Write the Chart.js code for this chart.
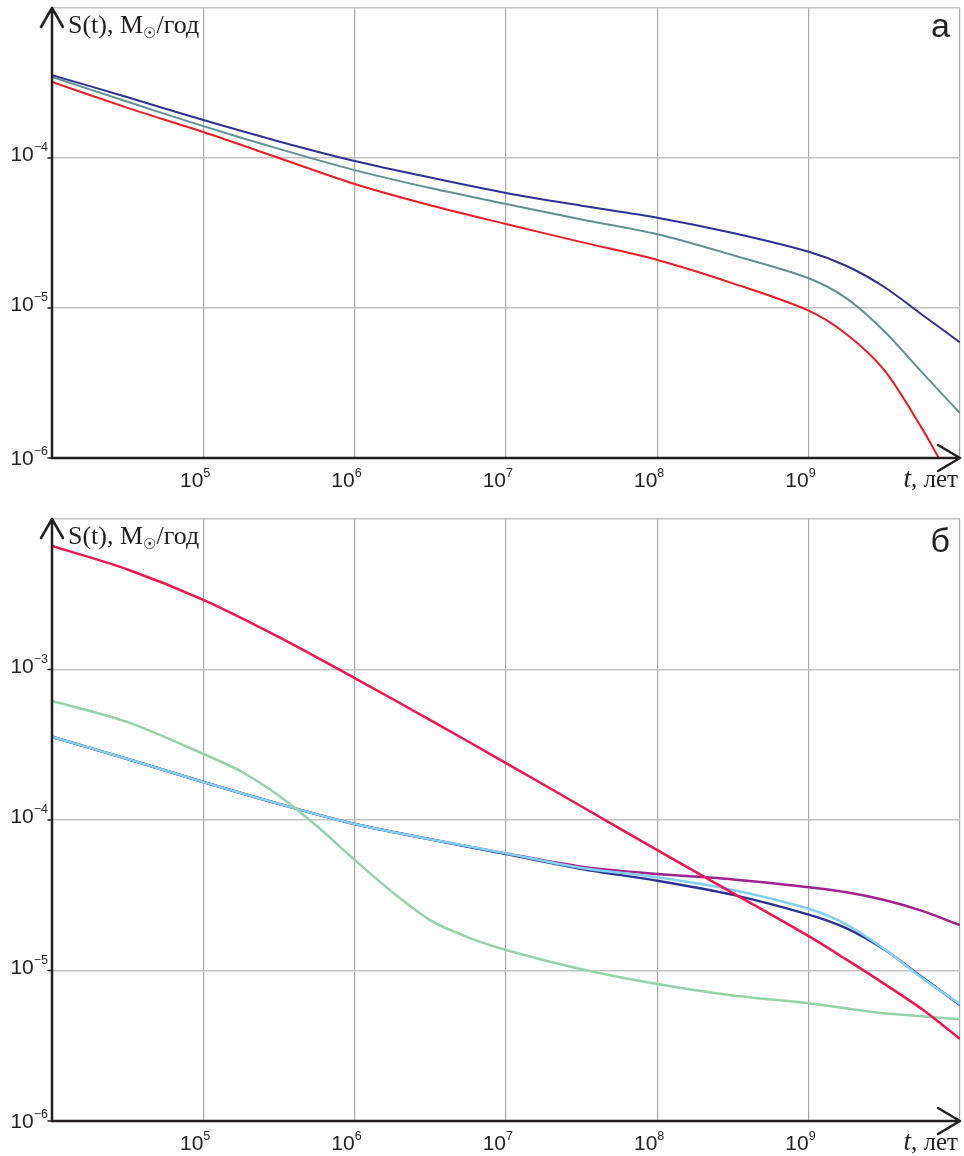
<!DOCTYPE html>
<html>
<head>
<meta charset="utf-8">
<title>S(t)</title>
<script src="https://cdn.jsdelivr.net/npm/chart.js"></script>
<style>
  body { margin: 0; background: #fff; }
  canvas { position: absolute; left: 0; }
  #panelA { top: 0; }
  #panelB { top: 495px; }
</style>
</head>
<body>
<canvas id="panelA" width="964" height="495"></canvas>
<canvas id="panelB" width="964" height="661"></canvas>
<script>
// панель а
const T_A = [1e4, 3.16e4, 1e5, 3.16e5, 1e6, 3.16e6, 1e7, 3.16e7, 1e8, 3.16e8, 1e9, 1.78e9, 3.16e9, 5.62e9, 1e10];
const S_A_NAVY = [3.57e-4, 2.54e-4, 1.79e-4, 1.29e-4, 9.55e-5, 7.41e-5, 5.85e-5, 4.81e-5, 4.0e-5, 3.16e-5, 2.37e-5, 1.905e-5, 1.38e-5, 9.02e-6, 5.9e-6];
const S_A_TEAL = [3.47e-4, 2.37e-4, 1.63e-4, 1.15e-4, 8.3e-5, 6.3e-5, 4.93e-5, 3.89e-5, 3.10e-5, 2.25e-5, 1.58e-5, 1.16e-5, 7.0e-6, 3.72e-6, 1.99e-6];
const T_A_RED = [1e4, 3.16e4, 1e5, 3.16e5, 1e6, 3.16e6, 1e7, 3.16e7, 1e8, 3.16e8, 1e9, 1.78e9, 3.16e9, 5.62e9, 7.24e9];
const S_A_RED = [3.21e-4, 2.16e-4, 1.49e-4, 1.0e-4, 6.71e-5, 4.84e-5, 3.63e-5, 2.75e-5, 2.09e-5, 1.46e-5, 9.6e-6, 6.68e-6, 3.85e-6, 1.57e-6, 1.0e-6];

// панель б
const T_B = [1e4, 3.16e4, 1e5, 3.16e5, 1e6, 3.16e6, 1e7, 3.16e7, 1e8, 3.16e8, 1e9, 1.78e9, 3.16e9, 5.62e9, 1e10];
const S_B_NAVY = [3.57e-4, 2.54e-4, 1.79e-4, 1.28e-4, 9.4e-5, 7.45e-5, 5.94e-5, 4.73e-5, 3.95e-5, 3.18e-5, 2.35e-5, 1.905e-5, 1.38e-5, 9.02e-6, 5.9e-6];
const S_B_CYAN = [3.57e-4, 2.54e-4, 1.79e-4, 1.28e-4, 9.4e-5, 7.45e-5, 6.0e-5, 4.8e-5, 4.16e-5, 3.43e-5, 2.57e-5, 2.02e-5, 1.39e-5, 8.9e-6, 5.98e-6];
const S_B_PURPLE = [3.57e-4, 2.54e-4, 1.79e-4, 1.28e-4, 9.4e-5, 7.45e-5, 6.0e-5, 4.9e-5, 4.38e-5, 4.03e-5, 3.58e-5, 3.31e-5, 2.94e-5, 2.49e-5, 2.0e-5];
const S_B_CRIMSON = [6.62e-3, 4.62e-3, 2.90e-3, 1.64e-3, 8.77e-4, 4.61e-4, 2.39e-4, 1.23e-4, 6.31e-5, 3.27e-5, 1.69e-5, 1.18e-5, 8.15e-6, 5.52e-6, 3.51e-6];
const T_B_GREEN = [1e4, 3.16e4, 1e5, 1.78e5, 3.16e5, 5.62e5, 1e6, 1.78e6, 3.16e6, 5.62e6, 1e7, 3.16e7, 1e8, 3.16e8, 1e9, 3.16e9, 1e10];
const S_B_GREEN = [6.18e-4, 4.47e-4, 2.75e-4, 2.10e-4, 1.45e-4, 9.12e-5, 5.43e-5, 3.31e-5, 2.16e-5, 1.66e-5, 1.37e-5, 1.02e-5, 8.13e-6, 6.82e-6, 6.05e-6, 5.19e-6, 4.76e-6];

// сетка и подписи
const X_GRID = [1e4, 1e5, 1e6, 1e7, 1e8, 1e9, 1e10];
const X_LABELS = [1e5, 1e6, 1e7, 1e8, 1e9];
const Y_GRID_A = [1e-6, 1e-5, 1e-4, 1e-3];
const Y_LABELS_A = [1e-4, 1e-5, 1e-6];
const Y_GRID_B = [1e-6, 1e-5, 1e-4, 1e-3, 1e-2];
const Y_LABELS_B = [1e-3, 1e-4, 1e-5, 1e-6];

const INK = '#231f20';
const SANS = '"Liberation Sans", Arial, sans-serif';
const SERIF = '"Liberation Serif", "Times New Roman", serif';

function pts(ts, ss) {
    return ts.map((t, i) => ({ x: t, y: ss[i] }));
}

function line(data, color, width) {
    return {
        data: data,
        borderColor: color,
        borderWidth: width,
        pointRadius: 0,
        fill: false,
        tension: 0.3
    };
}

function supText(e) {
    return e < 0 ? '\u2212' + (-e) : String(e);
}

// "10" с показателем степени; xBase — правый край "10"
function drawPow(ctx, xBase, yBase, value) {
    const e = Math.round(Math.log10(value));
    ctx.textAlign = 'left';
    ctx.textBaseline = 'alphabetic';
    ctx.font = '21px ' + SANS;
    const wb = ctx.measureText('10').width;
    ctx.fillText('10', xBase - wb, yBase);
    ctx.font = '12.5px ' + SANS;
    ctx.fillText(supText(e), xBase, yBase - 10);
}

function powWidth(ctx, value) {
    const e = Math.round(Math.log10(value));
    ctx.font = '12.5px ' + SANS;
    return ctx.measureText(supText(e)).width;
}

const axisDecor = {
    id: 'axisDecor',
    afterDraw(chart, args, opts) {
        const ctx = chart.ctx;
        const area = chart.chartArea;
        const xs = chart.scales.x, ys = chart.scales.y;
        ctx.save();
        ctx.strokeStyle = INK;
        ctx.fillStyle = INK;
        ctx.lineCap = 'round';
        ctx.lineJoin = 'round';

        // малые засечки слева
        ctx.lineWidth = 1.5;
        opts.yLabels.forEach(v => {
            const y = ys.getPixelForValue(v);
            ctx.beginPath();
            ctx.moveTo(area.left - 4, y);
            ctx.lineTo(area.left, y);
            ctx.stroke();
        });

        // оси со стрелками
        ctx.lineWidth = 2.5;
        ctx.beginPath();
        ctx.moveTo(area.left, area.bottom);
        ctx.lineTo(area.left, area.top);
        ctx.moveTo(area.left - 11, area.top + 19);
        ctx.lineTo(area.left, area.top);
        ctx.lineTo(area.left + 11, area.top + 19);
        ctx.stroke();
        ctx.beginPath();
        ctx.moveTo(area.left, area.bottom);
        ctx.lineTo(area.right, area.bottom);
        ctx.moveTo(area.right - 22, area.bottom - 13);
        ctx.lineTo(area.right, area.bottom);
        ctx.lineTo(area.right - 22, area.bottom + 13);
        ctx.stroke();

        // подписи делений
        const yMin = Math.min(...opts.yLabels);
        opts.yLabels.forEach(v => {
            const y = ys.getPixelForValue(v);
            drawPow(ctx, 48 - powWidth(ctx, v), y + (v === yMin ? 7 : 3), v);
        });
        X_LABELS.forEach(v => {
            drawPow(ctx, xs.getPixelForValue(v), area.bottom + 29, v);
        });

        // t, лет
        ctx.textAlign = 'left';
        ctx.textBaseline = 'alphabetic';
        ctx.font = 'italic 27px ' + SERIF;
        const wt = ctx.measureText('t').width;
        ctx.font = '25px ' + SERIF;
        const wl = ctx.measureText(', лет').width;
        const x0 = 958 - wt - wl;
        ctx.font = 'italic 27px ' + SERIF;
        ctx.fillText('t', x0, area.bottom + 29);
        ctx.font = '25px ' + SERIF;
        ctx.fillText(', лет', x0 + wt, area.bottom + 29);

        // S(t), M☉/год
        const tx = 68, ty = area.top + 25;
        ctx.font = '26px ' + SERIF;
        ctx.fillText('S(t), M', tx, ty);
        let w = ctx.measureText('S(t), M').width;
        ctx.font = '15px "DejaVu Sans", sans-serif';
        ctx.fillText('\u2609', tx + w, ty + 5);
        w += ctx.measureText('\u2609').width;
        ctx.font = '26px ' + SERIF;
        ctx.fillText('/год', tx + w, ty);

        // буква панели
        ctx.textAlign = 'right';
        ctx.font = '34px ' + SANS;
        ctx.fillText(opts.letter, 950, area.top + opts.letterDy);
        ctx.restore();
    }
};

function makeOptions(yMin, yMax, yGrid, yLabels, letter, letterDy, pad) {
    return {
        responsive: false,
        animation: false,
        layout: { padding: pad },
        plugins: {
            legend: { display: false },
            tooltip: { enabled: false },
            axisDecor: { yLabels: yLabels, letter: letter, letterDy: letterDy }
        },
        scales: {
            x: {
                type: 'logarithmic',
                min: 1e4,
                max: 1e10,
                afterBuildTicks: s => { s.ticks = X_GRID.map(v => ({ value: v })); },
                ticks: { display: false },
                grid: { color: '#a8a8a8', lineWidth: 1.2, drawTicks: false },
                border: { display: false }
            },
            y: {
                type: 'logarithmic',
                min: yMin,
                max: yMax,
                afterBuildTicks: s => { s.ticks = yGrid.map(v => ({ value: v })); },
                ticks: { display: false },
                grid: { color: '#c2c2c2', lineWidth: 1.5, drawTicks: false },
                border: { display: false }
            }
        }
    };
}

new Chart(document.getElementById('panelA'), {
    type: 'line',
    data: {
        datasets: [
            line(pts(T_A_RED, S_A_RED), '#ed1c24', 2),
            line(pts(T_A, S_A_TEAL), '#5e9191', 2),
            line(pts(T_A, S_A_NAVY), '#2e3192', 2)
        ]
    },
    options: makeOptions(1e-6, 1e-3, Y_GRID_A, Y_LABELS_A, 'а', 29,
        { left: 52, right: 4, top: 8, bottom: 37 }),
    plugins: [axisDecor]
});

new Chart(document.getElementById('panelB'), {
    type: 'line',
    data: {
        datasets: [
            line(pts(T_B, S_B_CRIMSON), '#ec1751', 2.5),
            line(pts(T_B_GREEN, S_B_GREEN), '#93d3aa', 2.5),
            line(pts(T_B, S_B_CYAN), '#82d1f3', 2.5),
            line(pts(T_B, S_B_NAVY), '#2e3192', 2.5),
            line(pts(T_B, S_B_PURPLE), '#a0218f', 2.5)
        ]
    },
    options: makeOptions(1e-6, 1e-2, Y_GRID_B, Y_LABELS_B, 'б', 33,
        { left: 52, right: 4, top: 24, bottom: 35 }),
    plugins: [axisDecor]
});
</script>
</body>
</html>
